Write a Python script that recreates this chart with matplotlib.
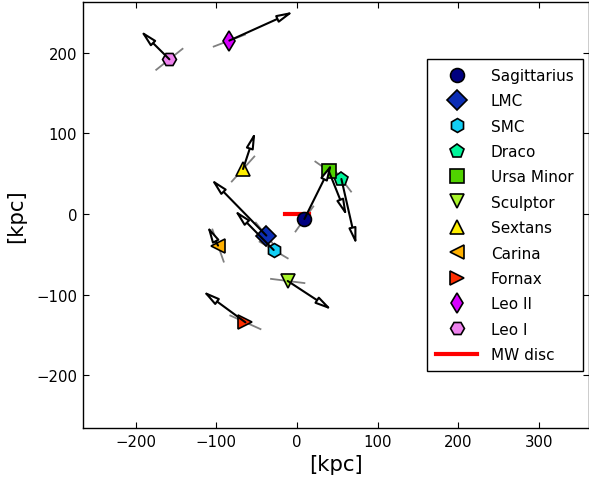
import matplotlib
matplotlib.use("Agg")
import matplotlib.pyplot as plt
import numpy as np

# --- data (kpc) ---
names = ["Sagittarius", "LMC", "SMC", "Draco", "Ursa Minor", "Sculptor",
         "Sextans", "Carina", "Fornax", "Leo II", "Leo I"]
pos_x = [9.2, -38.0, -28.9, 55.1, 39.4, -11.5, -66.9, -97.9, -64.0, -83.9, -158.3]
pos_y = [-6.2, -26.8, -44.7, 43.4, 53.4, -83.1, 55.8, -39.2, -134.4, 215.1, 191.9]
vel_x = [34.3, -68.6, -48.8, 18.6, 22.5, 55.0, 15.3, -13.6, -53.0, 79.8, -36.0]
vel_y = [69.1, 70.2, 49.7, -81.9, -56.3, -36.0, 46.4, 24.8, 38.9, 36.0, 35.7]
plane_x = [11.0, -13.0, 17.4, 12.0, 16.6, 20.7, 14.0, 7.0, 18.7, 19.4, 16.3]
plane_y = [15.5, 16.0, -10.3, -15.6, -11.6, -2.6, 15.5, -19.9, -8.4, 7.4, 13.0]
markers = ["o", "D", "h", "p", "s", "v", "^", "<", ">", "d", "H"]
colors = ["#000080", "#0c2eb4", "#12cef5", "#00f59a", "#50d200", "#a8f52a",
          "#ffee00", "#ffb000", "#ff2e00", "#d800ff", "#ee82ee"]
disc_x = [-15, 15]
disc_y = [0, 0]

fig = plt.figure(figsize=(5.89, 4.81), dpi=100)
ax = fig.add_axes([0.1402, 0.1081, 0.8598, 0.8857])

for i, n in enumerate(names):
    x0, y0 = pos_x[i], pos_y[i]
    ax.plot([x0 - plane_x[i], x0 + plane_x[i]], [y0 - plane_y[i], y0 + plane_y[i]],
            color="gray", lw=1.3, zorder=1)
    ax.plot([x0], [y0], linestyle="none", marker=markers[i], markersize=10,
            markerfacecolor=colors[i], markeredgecolor="black", markeredgewidth=1.2,
            label=n, zorder=3)
    ax.annotate("", xy=(x0 + vel_x[i], y0 + vel_y[i]), xytext=(x0, y0),
                arrowprops=dict(arrowstyle="-|>,head_length=0.95,head_width=0.22",
                                fc="white", ec="black", lw=1.5,
                                shrinkA=0, shrinkB=0),
                zorder=4, annotation_clip=False)

ax.plot(disc_x, disc_y, color="red", lw=3, label="MW disc", zorder=2)

ax.set_xlim(-266, 362.3)
ax.set_ylim(-265.5, 263)
ax.set_xticks([-200, -100, 0, 100, 200, 300])
ax.set_yticks([-200, -100, 0, 100, 200])
ax.tick_params(direction="in", length=4.5, width=0.8, top=True, right=True,
               labelsize=10.7, pad=4)
for s in ax.spines.values():
    s.set_linewidth(1.0)
ax.set_xlabel("[kpc]", fontsize=15.3, labelpad=4)
ax.set_ylabel("[kpc]", fontsize=15.3, labelpad=7)

leg = ax.legend(loc="center right", numpoints=1, fontsize=11, handlelength=2.7,
                fancybox=False, framealpha=1, edgecolor="black",
                borderpad=0.6, labelspacing=0.68, handletextpad=0.9,
                borderaxespad=0.4)
leg.get_frame().set_linewidth(1.0)

fig.savefig("out.png", dpi=100)
